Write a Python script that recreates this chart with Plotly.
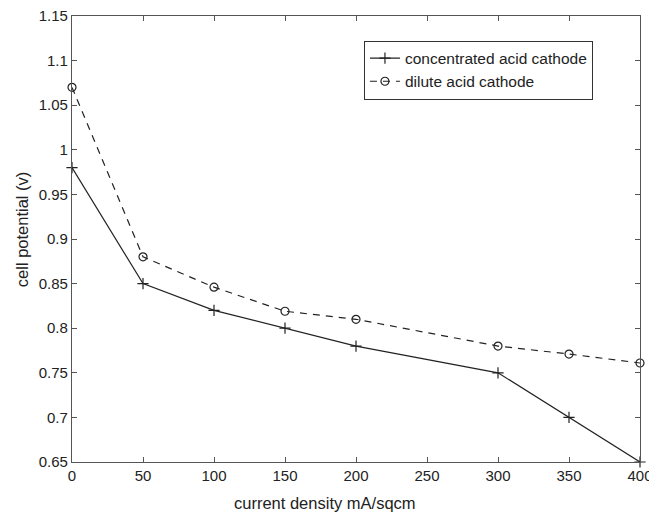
import plotly.graph_objects as go

current_density = [0, 50, 100, 150, 200, 300, 350, 400]
concentrated = [0.98, 0.85, 0.82, 0.80, 0.78, 0.75, 0.70, 0.65]
dilute = [1.07, 0.88, 0.846, 0.819, 0.81, 0.78, 0.771, 0.761]

x_ticks = [0, 50, 100, 150, 200, 250, 300, 350, 400]
y_ticks = [0.65, 0.7, 0.75, 0.8, 0.85, 0.9, 0.95, 1.0, 1.05, 1.1, 1.15]
y_tick_text = ["0.65", "0.7", "0.75", "0.8", "0.85", "0.9", "0.95", "1", "1.05", "1.1", "1.15"]

x_title = "current density mA/sqcm"
y_title = "cell potential (v)"

FONT = "Liberation Sans, Arial, sans-serif"

fig = go.Figure()
fig.add_trace(go.Scatter(
    x=current_density, y=concentrated, name="concentrated acid cathode",
    mode="lines+markers",
    line=dict(color="#222222", width=1.2),
    marker=dict(symbol="cross-thin-open", size=8, color="#222222",
                line=dict(width=1.2, color="#222222")),
    cliponaxis=False,
))
fig.add_trace(go.Scatter(
    x=current_density, y=dilute, name="dilute acid cathode",
    mode="lines+markers",
    line=dict(color="#222222", width=1.2, dash="7px,6px"),
    marker=dict(symbol="circle-open", size=8, color="#222222",
                line=dict(width=1.2, color="#222222")),
    cliponaxis=False,
))

axis_common = dict(
    showline=True, linecolor="#555555", linewidth=1.2, mirror="ticks",
    ticks="inside", ticklen=5, tickcolor="#555555", tickwidth=1,
    showgrid=False, zeroline=False, automargin=False,
    ticklabeloverflow="allow",
    tickfont=dict(family=FONT, size=15, color="#222222"),
)

# the page body has an 8px margin, so the figure is sized to fit the window
fig.update_layout(
    width=649, height=505,
    paper_bgcolor="white", plot_bgcolor="white",
    margin=dict(l=64, r=17, t=8, b=51),
    font=dict(family=FONT, color="#222222"),
    xaxis=dict(range=[0, 400], tickvals=x_ticks, **axis_common),
    yaxis=dict(range=[0.65, 1.15], tickvals=y_ticks, ticktext=y_tick_text, **axis_common),
    legend=dict(
        x=0.514, y=0.945, xanchor="left", yanchor="top",
        bgcolor="white", bordercolor="#333333", borderwidth=1,
        font=dict(size=15.5, color="#222222"),
        tracegroupgap=0, itemwidth=30,
    ),
    showlegend=True,
    annotations=[
        dict(text=x_title, xref="paper", yref="paper", x=0.445, y=-0.093,
             xanchor="center", yanchor="middle", showarrow=False,
             font=dict(family=FONT, size=16.5, color="#222222")),
        dict(text=y_title, xref="paper", yref="paper", x=-0.088, y=0.522,
             xanchor="center", yanchor="middle", showarrow=False, textangle=-90,
             font=dict(family=FONT, size=16.5, color="#222222")),
    ],
)

fig.write_html("out.html")
